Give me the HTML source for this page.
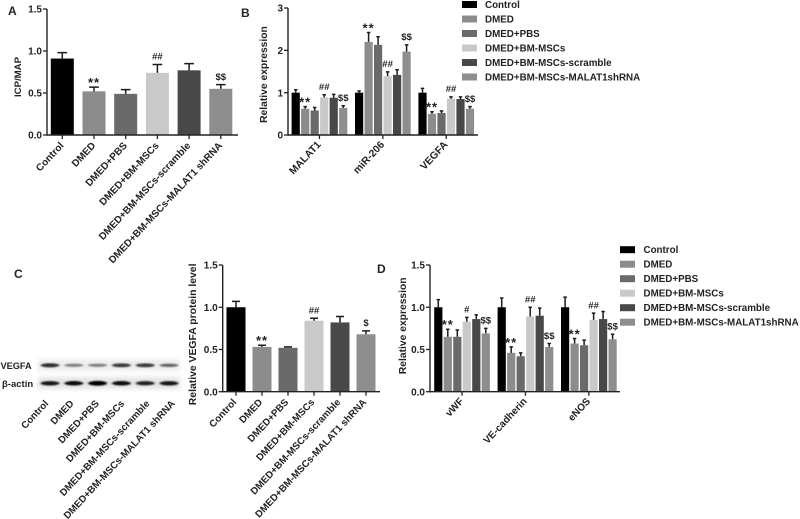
<!DOCTYPE html>
<html lang="en">
<head>
<meta charset="utf-8">
<title>Panel figure: ICP/MAP, relative expression and VEGFA levels</title>
<style>
html,body{margin:0;padding:0;background:#fff;}
body{width:800px;height:519px;overflow:hidden;}
svg{display:block;filter:blur(0.35px);}
text{font-family:"Liberation Sans",sans-serif;fill:#222;}
</style>
</head>
<body>
<svg id="figure" width="800" height="519" viewBox="0 0 800 519" xmlns="http://www.w3.org/2000/svg">
  <defs><filter id="bandBlur" x="-30%" y="-100%" width="160%" height="300%"><feGaussianBlur stdDeviation="1 0.9"/></filter>
  <filter id="bgBlur" x="-10%" y="-50%" width="120%" height="200%"><feGaussianBlur stdDeviation="2"/></filter></defs>
  <text x="8" y="15" font-size="12" font-weight="bold">A</text>
  <text x="241" y="17" font-size="12" font-weight="bold">B</text>
  <text x="14" y="278" font-size="12" font-weight="bold">C</text>
  <text x="377" y="273" font-size="12" font-weight="bold">D</text>
  <g id="layer"></g>
</svg>
<script>
const groupNames = ["Control","DMED","DMED+PBS","DMED+BM-MSCs","DMED+BM-MSCs-scramble","DMED+BM-MSCs-MALAT1 shRNA"];
const legendNames = ["Control","DMED","DMED+PBS","DMED+BM-MSCs","DMED+BM-MSCs-scramble","DMED+BM-MSCs-MALAT1shRNA"];
const barColors = ["#000000","#8c8c8c","#6a6a6a","#c9c9c9","#484848","#8e8e8e"];

const ticksA = [0,0.5,1,1.5];
const valuesA = [[0.91,0.52,0.49,0.74,0.77,0.55]];
const errorsA = [[0.07,0.05,0.05,0.10,0.08,0.05]];
const marksA = [[null,"**",null,"##",null,"$$"]];

const ticksB = [0,1,2,3];
const categoriesB = ["MALAT1","miR-206","VEGFA"];
const valuesB = [[1.0,0.62,0.58,0.89,0.88,0.64],[1.0,2.2,2.13,1.39,1.42,1.97],[1.0,0.5,0.52,0.86,0.85,0.62]];
const errorsB = [[0.07,0.05,0.07,0.06,0.08,0.05],[0.04,0.22,0.19,0.10,0.12,0.16],[0.10,0.05,0.05,0.04,0.05,0.05]];
const marksB = [[null,"**",null,"##",null,"$$"],[null,"**",null,"##",null,"$$"],[null,"**",null,"##",null,"$$"]];

const ticksC = [0,0.5,1,1.5];
const valuesC = [[1.0,0.53,0.52,0.84,0.82,0.68]];
const errorsC = [[0.07,0.02,0.01,0.03,0.07,0.04]];
const marksC = [[null,"**",null,"##",null,"$"]];

const ticksD = [0,0.5,1,1.5];
const categoriesD = ["vWF","VE-cadherin","eNOS"];
const valuesD = [[1.0,0.65,0.65,0.83,0.86,0.69],[1.0,0.46,0.42,0.89,0.90,0.53],[1.0,0.57,0.55,0.85,0.86,0.62]];
const errorsD = [[0.09,0.09,0.08,0.05,0.05,0.06],[0.11,0.07,0.04,0.11,0.09,0.04],[0.12,0.06,0.06,0.08,0.09,0.06]];
const marksD = [[null,"**",null,"#",null,"$$"],[null,"**",null,"##",null,"$$"],[null,"**",null,"##",null,"$$"]];

const blotVegfa = [0.75,0.42,0.42,0.7,0.7,0.52];
const blotActin = [0.85,0.9,1.0,0.9,0.8,0.85];

const NS = "http://www.w3.org/2000/svg";
const layer = document.getElementById("layer");

function make(parent, tag, attrs, text) {
  const el = document.createElementNS(NS, tag);
  for (const k in attrs) el.setAttribute(k, attrs[k]);
  if (text !== undefined) el.textContent = text;
  parent.appendChild(el);
  return el;
}

function drawPanel(p) {
  const g = make(layer, "g", {});
  
  
  const yScale = v => p.yZero - (v / p.yMax) * (p.yZero - p.yTop);
  const xScale = (grp, i) => p.firstBar + grp * p.groupStep + i * p.barStep;

  p.values.forEach((series, grp) => {
    series.forEach((v, i) => {
      const cx = xScale(grp, i);
      const bar = make(g, "rect", {x: cx - p.barW / 2, y: yScale(v), width: p.barW, height: p.yZero - yScale(v), fill: barColors[i]});
      
      
      const top = yScale(v + p.errors[grp][i]);
      const capW = Math.max(3.5, p.barW * 0.42);
      const err = make(g, "path", {d: "M" + cx + " " + yScale(v) + "V" + top + "M" + (cx - capW / 2) + " " + top + "H" + (cx + capW / 2), stroke: "#1c1c1c", "stroke-width": 1.5, fill: "none"});
      
      
      const m = p.marks[grp][i];
      if (m) {
        const isStar = m === "**";
        const mark = make(g, "text", {x: cx, y: top - (isStar ? 0 : 4.8), "text-anchor": "middle", "font-size": isStar ? 13 : 9.5, "font-weight": "bold", style: "letter-spacing:" + (isStar ? 1 : 0) + "px"}, m);
        
        
      }
    });
  });

  const yAxis = make(g, "path", {d: "M" + p.axisX + " " + p.yTop + "V" + (p.yZero + 0.7), stroke: "#222", "stroke-width": 1.4, fill: "none"});
  
  
  const xAxis = make(g, "path", {d: "M" + p.axisX + " " + p.yZero + "H" + p.axisEnd, stroke: "#222", "stroke-width": 1.4, fill: "none"});
  
  

  p.ticks.forEach(t => {
    const y = yScale(t);
    make(g, "path", {d: "M" + (p.axisX - 4) + " " + y + "H" + p.axisX, stroke: "#222", "stroke-width": 1.3});
    const lab = make(g, "text", {x: p.axisX - 5, y: y + 3.6, "text-anchor": "end", "font-size": 10, "font-weight": "bold"}, p.tickFormat(t));
    
    
  });

  p.categories.forEach((c, grp) => {
    const cx = p.grouped ? (xScale(grp, 0) + xScale(grp, 5)) / 2 : xScale(0, grp);
    make(g, "path", {d: "M" + cx + " " + p.yZero + "v4", stroke: "#222", "stroke-width": 1.3});
    const tx = cx + p.labelDx;
    const ty = p.yZero + p.labelDy;
    const lab = make(g, "text", {x: tx, y: ty, "text-anchor": "end", "font-size": p.labelSize, "font-weight": "bold", transform: "rotate(-47 " + tx + " " + ty + ")"}, c);
    
    
  });

  const midY = (p.yTop + p.yZero) / 2 + p.titleShift;
  const title = make(g, "text", {x: p.titleX, y: midY, "text-anchor": "middle", "font-size": p.titleSize, "font-weight": "bold", transform: "rotate(-90 " + p.titleX + " " + midY + ")"}, p.title);
  
  
}

function drawLegend(id, swatchX, textX, ys) {
  const g = make(layer, "g", {});
  
  
  legendNames.forEach((n, i) => {
    const sw = make(g, "rect", {x: swatchX, y: ys + i * 14.5 - 3.5, width: 15, height: 7, fill: barColors[i]});
    
    
    const t = make(g, "text", {x: textX, y: ys + i * 14.5 + 3.4, "font-size": 9.8, "font-weight": "bold"}, n);
    
    
  });
}

function drawBlot() {
  const g = make(layer, "g", {});
  
  
  make(g, "rect", {x: 38, y: 359, width: 142, height: 12, fill: "#ededed", filter: "url(#bgBlur)"});
  make(g, "rect", {x: 38, y: 377, width: 142, height: 12, fill: "#e4e4e4", filter: "url(#bgBlur)"});
  const laneX = i => 50 + i * 23.8;
  const rows = [[blotVegfa, 365.3], [blotActin, 383.3]];
  rows.forEach(r => {
    r[0].forEach((d, i) => {
      const band = make(g, "ellipse", {cx: laneX(i), cy: r[1], rx: 9.5, ry: 1 + d * 1.4, fill: "#000", opacity: Math.min(1, d + 0.05), filter: "url(#bandBlur)"});
      
      
    });
  });
  const l1 = make(g, "text", {x: 0.5, y: 369, "font-size": 9.2, "font-weight": "bold"}, "VEGFA");
  
  
  const l2 = make(g, "text", {x: 2, y: 387, "font-size": 9.5, "font-weight": "bold", style: 'font-family:"Liberation Sans","DejaVu Sans",sans-serif'}, "β-actin");
  
  
  groupNames.forEach((n, i) => {
    const x = 49 + i * 25.3;
    const y = 404;
    const t = make(g, "text", {x: x, y: y, "text-anchor": "end", "font-size": 9.8, "font-weight": "bold", transform: "rotate(-47 " + x + " " + y + ")"}, n);
    
    
  });
}

const fmt1 = t => t.toFixed(1);
const fmt0 = t => String(t);

drawPanel({id:"a", values:valuesA, errors:errorsA, marks:marksA, ticks:ticksA, tickFormat:fmt1, categories:groupNames, grouped:false,
  yMax:1.5, yTop:9, yZero:135, axisX:47, axisEnd:238, firstBar:62.3, groupStep:0, barStep:31.7, barW:23,
  labelSize:10, labelDx:2, labelDy:11, title:"ICP/MAP", titleX:21, titleSize:9.6, titleShift:5});
drawPanel({id:"b", values:valuesB, errors:errorsB, marks:marksB, ticks:ticksB, tickFormat:fmt0, categories:categoriesB, grouped:true,
  yMax:3, yTop:8, yZero:135, axisX:288, axisEnd:478, firstBar:295.7, groupStep:63.4, barStep:9.5, barW:8.2,
  labelSize:10.3, labelDx:2, labelDy:10, title:"Relative expression", titleX:267, titleSize:10.3, titleShift:3});
drawPanel({id:"c", values:valuesC, errors:errorsC, marks:marksC, ticks:ticksC, tickFormat:fmt1, categories:groupNames, grouped:false,
  yMax:1.5, yTop:265, yZero:391.7, axisX:222.7, axisEnd:380, firstBar:236, groupStep:0, barStep:26, barW:19,
  labelSize:9.8, labelDx:1, labelDy:11, title:"Relative VEGFA protein level", titleX:196, titleSize:10.4, titleShift:6});
drawPanel({id:"d", values:valuesD, errors:errorsD, marks:marksD, ticks:ticksD, tickFormat:fmt1, categories:categoriesD, grouped:true,
  yMax:1.5, yTop:265, yZero:391.7, axisX:430, axisEnd:620, firstBar:438.3, groupStep:63.4, barStep:9.5, barW:8.2,
  labelSize:10, labelDx:2, labelDy:10, title:"Relative expression", titleX:406, titleSize:10.3, titleShift:-2.6});
drawLegend("b", 462, 485, 4.5);
drawLegend("d", 620, 643.5, 249.7);
drawBlot();
</script>
</body>
</html>
